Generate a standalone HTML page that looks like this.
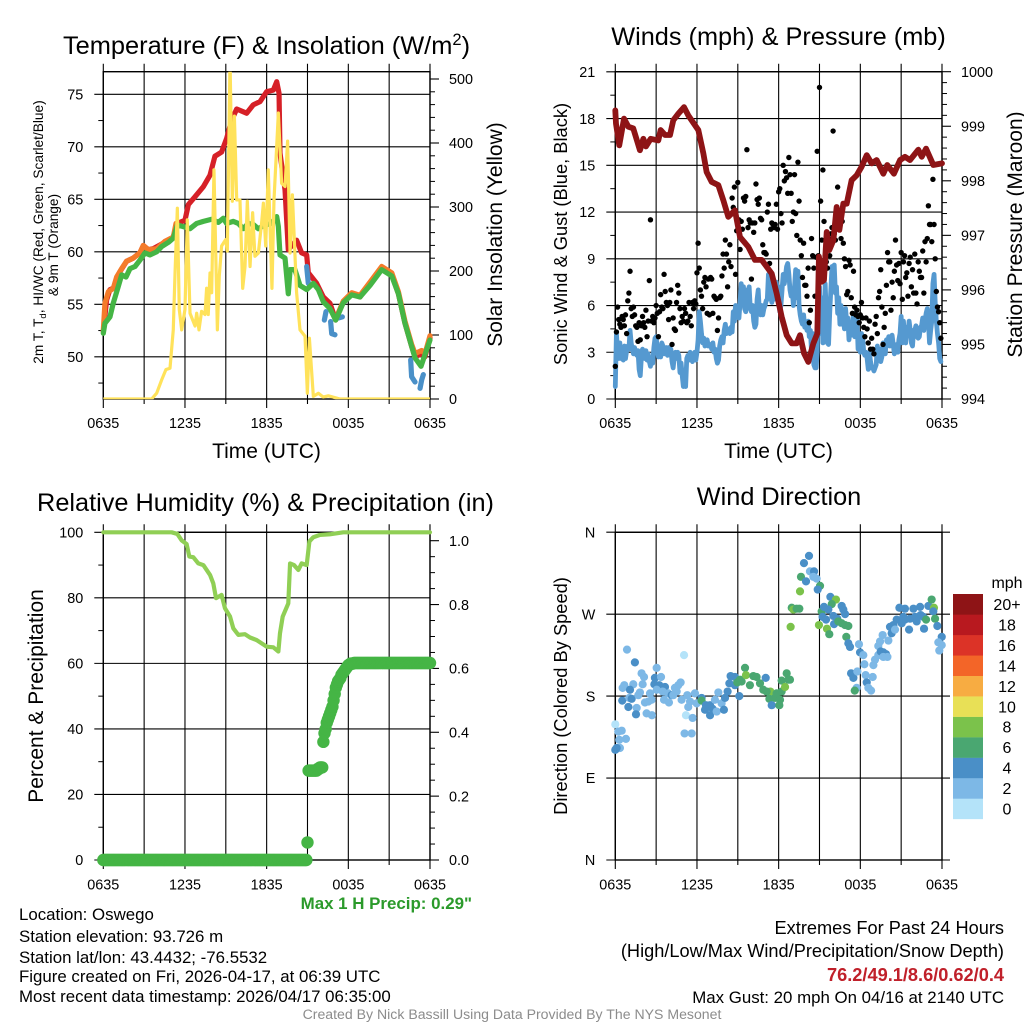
<!DOCTYPE html>
<html lang="en">
<head>
<meta charset="utf-8">
<title>Oswego Mesonet Meteogram</title>
<style>
html,body{margin:0;padding:0;background:#fff;width:1024px;height:1024px;overflow:hidden}
svg{display:block}
text{font-family:"Liberation Sans",sans-serif;fill:#000}
</style>
</head>
<body>
<svg id="chart-root" xmlns="http://www.w3.org/2000/svg" width="1024" height="1024" viewBox="0 0 1024 1024">
  <defs>
    <clipPath id="temp-clip"><rect x="103.3" y="71.7" width="326.7" height="327.5"/></clipPath>
  </defs>
  <g id="panel-temp"></g>
  <g id="panel-wind"></g>
  <g id="panel-rh"></g>
  <g id="panel-dir"></g>

  <text x="266.5" y="54" font-size="25.4" text-anchor="middle">Temperature (F) &amp; Insolation (W/m<tspan dy="-9" font-size="16.5">2</tspan><tspan dy="9">)</tspan></text>
  <text x="778.5" y="45" font-size="25.3" text-anchor="middle">Winds (mph) &amp; Pressure (mb)</text>
  <text x="265.5" y="511" font-size="25.3" text-anchor="middle">Relative Humidity (%) &amp; Precipitation (in)</text>
  <text x="779" y="505" font-size="25.3" text-anchor="middle">Wind Direction</text>

  <text x="266.5" y="458" font-size="21" text-anchor="middle">Time (UTC)</text>
  <text x="778.5" y="458" font-size="21" text-anchor="middle">Time (UTC)</text>

  <text transform="translate(43,232) rotate(-90)" font-size="13.7" text-anchor="middle">2m T, T<tspan dy="3" font-size="9.5">d</tspan><tspan dy="-3">, HI/WC (Red, Green, Scarlet/Blue)</tspan></text>
  <text transform="translate(58,245) rotate(-90)" font-size="13.7" text-anchor="middle">&amp; 9m T (Orange)</text>
  <text transform="translate(502,234.5) rotate(-90)" font-size="21" text-anchor="middle">Solar Insolation (Yellow)</text>
  <text transform="translate(567,234) rotate(-90)" font-size="18.3" text-anchor="middle">Sonic Wind &amp; Gust (Blue, Black)</text>
  <text transform="translate(1022,234.5) rotate(-90)" font-size="21" text-anchor="middle">Station Pressure (Maroon)</text>
  <text transform="translate(43,696) rotate(-90)" font-size="21" text-anchor="middle">Percent &amp; Precipitation</text>
  <text transform="translate(567,696) rotate(-90)" font-size="18.3" text-anchor="middle">Direction (Colored By Speed)</text>

  <text x="472" y="909" font-size="16.9" font-weight="bold" text-anchor="end" style="fill:#2b9a2b">Max 1 H Precip: 0.29"</text>

  <g font-size="16.85">
    <text x="19" y="920">Location: Oswego</text>
    <text x="19" y="942">Station elevation: 93.726 m</text>
    <text x="19" y="963">Station lat/lon: 43.4432; -76.5532</text>
    <text x="19" y="982">Figure created on Fri, 2026-04-17, at 06:39 UTC</text>
    <text x="19" y="1002">Most recent data timestamp: 2026/04/17 06:35:00</text>
  </g>
  <g text-anchor="end">
    <text x="1004" y="934" font-size="18.2">Extremes For Past 24 Hours</text>
    <text x="1004" y="957" font-size="18.2">(High/Low/Max Wind/Precipitation/Snow Depth)</text>
    <text x="1004" y="981" font-size="18.2" font-weight="bold" style="fill:#c0202a">76.2/49.1/8.6/0.62/0.4</text>
    <text x="1004" y="1003" font-size="16.85">Max Gust: 20 mph On 04/16 at 2140 UTC</text>
  </g>
  <text x="512" y="1019" font-size="14.1" text-anchor="middle" style="fill:#8c8c8c">Created By Nick Bassill Using Data Provided By The NYS Mesonet</text>
</svg>

<script>
/* ---------- tick labels ---------- */
const timeTickLabels = ['0635', '1235', '1835', '0035', '0635'];
const tempTicks = [50, 55, 60, 65, 70, 75];
const solarTicks = [0, 100, 200, 300, 400, 500];
const windTicks = [0, 3, 6, 9, 12, 15, 18, 21];
const pressureTicks = [994, 995, 996, 997, 998, 999, 1000];
const humidityTicks = [0, 20, 40, 60, 80, 100];
const precipTicks = ['0.0', '0.2', '0.4', '0.6', '0.8', '1.0'];
const directionTicks = [0, 90, 180, 270, 360];
const directionTickLabels = ['N', 'E', 'S', 'W', 'N'];
const speedLegendLabels = ['0', '2', '4', '6', '8', '10', '12', '14', '16', '18', '20+'];
const speedLegendColors = ['#b4e3f9', '#7db8e6', '#4a8fc7', '#4aa771', '#7bc24b', '#e8e056', '#f7ac42', '#f36528', '#dc3327', '#b8191f', '#8e1416'];

/* ---------- temperature panel ---------- */
const airTempHours = [0,.24,.49,.86,1.22,1.71,2.2,2.69,2.94,3.31,3.67,4.16,4.65,5.14,5.44,6,6.25,6.74,7.35,7.84,8.2,8.69,9.06,9.43,9.8,10.53,11.02,11.51,12,12.49,12.74,12.91,12.98,13.35,13.59,14.2,14.57,14.94,15.06,15.67,16.16,16.65,17.07,17.63,18.25,18.86,19.59,20.45,21.19,21.68,22.16,22.65,22.9,23.39,23.63,24];
const airTempValues = [52.4,55.4,56.4,56.6,58.1,59.1,59.4,59.9,60.6,60.2,60.3,60.65,61,61.4,62.7,63,64.5,65.25,66.2,67.3,69.1,69.5,70.8,72.55,73.6,73.2,74,74.3,75.25,75.4,76.2,75.1,69.4,65.9,60.2,61.1,59.9,59.7,58,57,55.7,55.1,53.5,55.25,56,55.7,57,58.4,57.8,56,53.2,51,50,50.3,50,51.8];
const mastTempHours = [0,.12,.37,.73,.98,1.35,1.71,2.2,2.69,2.94,3.31,3.92,4.53,5.14,5.34,null,17.07,17.63,18.25,18.86,19.59,20.45,21.19,21.68,22.16,22.65,22.9,23.39,23.63,24];
const mastTempValues = [52.5,55.1,56.2,56.5,57.6,58.4,59.1,59.4,59.9,60.6,60.2,60.3,61,61.4,62.7,null,53.6,55.3,56.1,55.85,57.1,58.6,58,56.2,53.4,51.2,50.3,50.6,50.3,52];
const windChillHours = [14.94,15.06,null,16.24,16.36,null,16.7,16.78,17.02,null,17.27,17.56,null,22.58,22.65,22.9,null,23.27,23.39,23.51];
const windChillValues = [58.6,57,null,53.5,54.3,null,53.35,52.2,52.1,null,53.7,53.8,null,49.7,48.1,47.6,null,47,47.8,48.3];
const dewPointHours = [0,.12,.49,.73,1.1,1.35,1.67,1.96,2.33,2.69,3.06,3.43,3.92,4.29,4.78,5.14,5.44,5.88,6.37,6.86,7.35,7.96,8.45,8.82,9.06,9.55,9.92,10.29,10.65,11.02,11.39,11.88,12.37,12.74,12.86,12.98,13.35,13.59,13.72,14.08,14.45,14.94,15.43,15.8,16.16,16.65,17.07,17.63,18.25,18.86,19.59,20.45,21.19,21.68,22.16,22.65,22.9,23.34,23.63,24];
const dewPointValues = [52.24,53.2,53.8,55.1,56.7,57.8,57.6,58.4,58.6,59.2,59.9,59.7,60,60.5,60.9,61.3,62.55,62.4,62.2,62.7,62.9,63.1,62.8,63.2,62.7,62.9,62.7,62.2,62.7,62.6,62.2,62.55,62.7,63.35,62.4,59.7,59.4,56,58.3,58.3,56.8,56.4,57,56.4,55.25,54.6,53.5,55.15,55.9,55.7,56.8,58.3,57.7,56,53.2,51,49.9,49.1,50.2,51.6];
const solarHours = [0,3.55,3.92,4.29,4.6,4.9,5.14,5.27,5.44,5.58,5.76,6,6.17,6.37,6.74,6.86,7.03,7.22,7.47,7.59,7.71,7.84,7.96,8.13,8.38,8.52,8.69,8.99,9.11,9.31,9.48,9.63,9.8,10.04,10.24,10.41,10.58,10.78,10.97,11.14,11.39,11.63,11.76,11.93,12.12,12.39,12.54,12.86,13.1,13.35,13.54,13.72,13.89,14.2,14.45,14.82,14.99,15.14,15.43,15.8,16.16,16.53,17.39,24];
const solarValues = [0,0,9,30,46,48,108,197,298,140,108,140,280,134,114,134,108,137,132,173,132,197,166,358,108,192,239,249,231,530,309,442,311,311,173,207,309,207,291,223,228,275,306,239,358,173,311,447,337,332,403,228,319,166,108,98,9,95,4,9,3,5,0,0];

/* ---------- wind panel (both series sampled every 5 min, one row per hour) ---------- */
const sustainedWind = [
.8,4.2,3,2.6,3.6,2.6,3.3,2.5,3.4,2.6,3.1,3.4,
3.2,4.4,3.6,3.2,2.9,3.3,3,2.8,3.1,1.9,1.5,2.7,
3.2,3,2.6,3.1,2.5,2.9,2.4,2.1,2.6,2.3,3.3,3.9,
4,3.3,2.7,3.2,2.7,3.6,3.4,2.9,3.1,3.3,2.8,3.3,
3.1,3.2,2.4,2,2.7,3,2.6,3,2.8,1.7,2.3,1.5,
.8,1,.8,2.6,2.8,2.5,3,2.8,2.4,2.6,3,2.5,
3,3.8,5.6,5,4.2,3.6,3.9,3.4,3.6,3.8,3.4,3.5,
3.5,3.2,3.6,3,3.2,2.6,2.3,2.5,3.4,3.8,4,3.6,
4.4,4.8,4.2,4.3,4.5,4.2,4.6,4.3,5.6,5,6,5.4,
5.8,5.2,6.2,7.4,6.6,7.2,5.8,5.6,7,6.6,7.2,5.8,
5.6,6,5,4.6,4.8,6.4,7,5.6,5.4,6,5.4,5.8,
6,6.3,6.4,8,7.2,6.6,6.2,7.2,6.4,7,7.5,6.8,
7.2,5.6,6,7,8,7.4,7.9,8.5,8.7,8,7,6.6,
7,6,7.2,8.3,6.5,8.2,6,5.4,5,4.8,5.4,4.6,
4.8,4.4,5,4,4.4,3,4.2,2.2,2,2,3,7,
7.2,4.2,6.5,3.6,4.5,7.4,5.5,3.6,3.5,5.5,7,8.5,
8,8.6,6.8,7.2,5.5,6.5,4.8,6,4.8,5.2,4.5,5.8,
4.9,5.2,3.8,4.5,4.1,4.8,5.5,4,4.2,5.4,3.2,3.5,
3,4.2,4,3,2.8,3,2.6,1.9,3,2.4,2,2,
1.8,2,2.2,3.4,2.5,3.2,2.4,2.7,3.6,3.2,2.9,3.8,
3.5,4,3.4,3.9,4.1,3.5,2.9,3.4,3.5,3,3.8,4.2,
5.3,3.6,5,4,3.6,4.6,4.2,5,4.4,3.6,3.4,4.4,
4.4,4.7,4,3.9,4,4.6,4.7,5.2,4.4,5,5.5,5.8,
5,3.6,4.4,5,7.4,8,6.2,5,4.2,3.6,2.6,2.4];
const gustWind = [
2.1,4.3,5.9,5.1,4.8,4.6,5.3,5.1,4.7,5.4,4.2,6.3,
6.8,8.2,5.8,5.3,5.9,5.4,4.7,4.6,3.7,4.9,3.8,4.7,
5.3,4.9,4.6,5.7,4,5,7.6,11.5,5,5.3,4.9,5.2,
6,5.5,4,5.6,6.7,5.9,5.8,8,6.9,6.2,6,5.1,
6.2,7,3.5,5.2,4.5,4.4,6.2,7.3,6.8,5.8,4.9,5.3,
5,5.8,5.5,4.9,5,6.2,5.3,4.7,6.2,5.8,6.3,6.1,
8.1,10,8.4,7,6.6,5.8,7.5,7.8,7.2,5.5,7.7,5.4,
7.8,7.7,5.5,6.6,6.5,6.4,4.4,5.2,6.5,6.6,7.9,9.3,
8.4,10.2,9.3,7.2,8.8,9.9,8.5,12.9,12.3,13.6,8,10.8,
13.9,11.5,9.6,11.4,10.9,12.9,12.7,13,16,11,11.5,11.3,
7.7,11.3,10.7,11.3,13.8,12.8,12.5,12.9,11.6,11.5,9.9,9.4,
9.4,9.3,12,12.5,8.7,10.9,11.3,11.2,11,11.2,12.5,10.9,
13.3,13.5,11.9,11.3,15,14,14.6,14.2,13.2,15.5,14.4,13.2,
11.4,12,14.4,11.9,10.5,15.2,12.7,10.2,9.2,7.8,10,7.3,
7.3,6.6,8.4,4.9,5.7,10.3,9.2,8.4,6.6,9.1,15.9,9.2,
20,12.7,10.2,14.7,11.4,9.2,8.8,8.4,10.3,9.2,10.6,11,
17.2,10.6,10.2,11,13.6,11.4,11.5,10.3,11.4,10,9,8.5,
6.7,6.9,8.9,8.6,6.5,5.5,8.2,5.9,5.4,5.7,5.3,4.9,
5.4,6.2,5.2,4.6,4,5.2,4.5,3.6,5,3.2,3.9,3.2,
2.9,4.8,5.3,4.2,6.5,6.9,8.3,5.9,3.5,4.6,5.5,7.3,
9.4,8.8,8.8,5.7,7.5,6.5,8.2,10.2,8.6,7.6,8.7,7.4,
9.4,6.4,8.8,9.2,7.8,8.1,6.6,8.7,9.1,7.2,8.3,6.8,
9.3,6.8,6.1,8.8,8.2,7.8,7.8,9.5,6.8,10.1,8.8,10.3,
12.4,11.2,11.2,10.1,14.1,11.2,9,6.9,5.9,5.6,4.9,3.9];
const pressureHours = [0,.05,.29,.64,.96,1.32,1.81,2.06,2.25,2.6,3.16,3.33,3.65,4.02,4.26,4.63,5.05,5.36,5.85,6.1,6.47,6.71,7.08,7.57,7.94,8.3,8.79,9.16,9.77,10.26,10.75,11.49,11.85,12.22,12.59,12.96,13.32,13.57,13.86,14.18,14.55,14.84,14.96,15.16,15.33,15.53,15.72,16.02,16.26,16.46,16.75,17,17.36,17.73,18.1,18.47,18.83,19.2,19.69,19.98,20.47,20.92,21.28,21.65,22.26,22.51,22.83,23.36,24];
const pressureValues = [999.29,999.05,998.65,999.14,998.99,998.96,998.56,998.77,998.63,998.77,998.74,998.93,998.84,998.84,999.11,999.23,999.35,999.2,999.02,998.93,998.5,998.16,997.98,997.92,997.64,997.34,997.46,996.97,996.79,996.55,996.55,996.3,995.94,995.51,995.17,995.02,995.02,995.17,994.84,994.68,995.02,995.2,996.61,996.15,996.18,997.06,996.73,996.91,997.52,997.1,997.58,997.58,998.01,998.1,998.26,998.47,998.32,998.38,998.13,998.29,998.13,998.38,998.44,998.38,998.57,998.44,998.59,998.29,998.32];

/* ---------- humidity / precipitation panel (precip: every 5 min) ---------- */
const humidityHours = [0,5.02,5.44,5.76,6.12,6.32,6.61,6.98,7.35,7.84,8.08,8.28,8.69,8.94,9.31,9.55,9.92,10.41,10.78,11.27,12,12.49,12.86,12.98,13.18,13.59,13.72,14.01,14.33,14.57,14.94,15.14,15.43,15.92,16.65,17.63,24];
const humidityValues = [100,100,99.5,97.5,96.4,92.6,92.4,90.5,90,87,84.4,79.9,80.9,76.8,74.3,70.7,68.7,68.9,67.9,67.1,65.1,64.9,63.6,69.2,74.3,78.3,90.5,90,88.5,90.5,90,97.2,98.5,99.2,99.4,100,100];
const precipInches = [
0,0,0,0,0,0,0,0,0,0,0,0, 0,0,0,0,0,0,0,0,0,0,0,0, 0,0,0,0,0,0,0,0,0,0,0,0,
0,0,0,0,0,0,0,0,0,0,0,0, 0,0,0,0,0,0,0,0,0,0,0,0, 0,0,0,0,0,0,0,0,0,0,0,0,
0,0,0,0,0,0,0,0,0,0,0,0, 0,0,0,0,0,0,0,0,0,0,0,0, 0,0,0,0,0,0,0,0,0,0,0,0,
0,0,0,0,0,0,0,0,0,0,0,0, 0,0,0,0,0,0,0,0,0,0,0,0, 0,0,0,0,0,0,0,0,0,0,0,0,
0,0,0,0,0,0,0,0,0,0,0,0, 0,0,0,0,0,0,0,0,0,0,0,0, 0,0,0,0,0,0,0,0,0,0,0,0,
.055,.28,.28,.28,.28,.28,.28,.28,.28,.285,.285,.29,
.29,.29,.37,.397,.41,.43,.44,.45,.46,.47,.48,.5,
.52,.54,.55,.56,.565,.57,.58,.585,.59,.595,.6,.605,
.61,.612,.615,.615,.615,.617,.617,.617,.617,.617,.617,.617,
.617,.617,.617,.617,.617,.617,.617,.617,.617,.617,.617,.617,
.617,.617,.617,.617,.617,.617,.617,.617,.617,.617,.617,.617,
.617,.617,.617,.617,.617,.617,.617,.617,.617,.617,.617,.617,
.617,.617,.617,.617,.617,.617,.617,.617,.617,.617,.617,.617,
.617,.617,.617,.617,.617,.617,.617,.617,.617,.617,.617,.617,.617];

/* ---------- direction panel ---------- */
const directionHours = [0,.22,.47,.29,.78,.34,0,.1,.86,1.44,.66,.54,1.32,1.08,.51,1.03,1.2,.96,1.57,1.52,1.81,1.69,1.93,2.11,2.01,2.55,2.42,2.18,2.67,2.3,2.69,3.04,2.91,3.36,2.87,3.23,3.65,3.04,3.48,3.89,4.14,3.58,3.94,4.26,4.38,4.63,4.8,4.51,5.05,4.87,5.29,5.49,5.36,5.19,5.68,5.09,5.61,5.85,5.98,6.34,6.34,6.66,6.96,6.59,6.96,7.15,7.45,7.32,7.57,7.81,7.98,8.06,8.25,8.38,8.47,8.79,8.79,9.11,8.96,9.28,9.16,9.53,9.6,9.89,10.14,10.38,10.63,10.87,11.05,11.39,11.12,11.32,11.49,11.73,12.1,12.05,11.85,12.22,12.22,12.47,12.59,12.71,12.83,12.88,13.57,12.96,13.08,13.32,13.52,13.64,13.86,14.23,14.01,14.3,14.6,14.55,14.79,15.04,14.87,15.8,16.21,15.9,16.63,16.75,16.88,15.16,15.33,15.65,15.23,15.48,16.02,16.31,16.07,16.38,16.63,16.88,17.12,14.96,15.55,15.72,16.97,17.12,17.24,17.9,17.98,18.22,17.32,17.49,18.3,17.78,18.39,17.73,17.59,18.47,18.91,18.59,18.79,18.96,19.08,19.32,19.32,19.45,19.64,20.06,19.69,19.5,19.89,19.99,19.69,20.18,20.3,20.43,20.55,20.67,20.87,21.28,21.16,21.04,21.28,21.58,21.65,21.9,22.02,22.39,22.43,22.14,22.63,22.83,22.68,23,23.24,23.41,23.36,23.49,23.66,23.98,23.73,23.98,23.8];
const directionDegrees = [149,141,142,132,133,123,121,123,231,217,192,189,193,187,175,178,177,168,167,160,184,181,205,201,193,183,174,173,176,161,159,211,200,201,193,192,190,187,185,183,181,176,173,181,189,192,195,185,225,176,181,174,168,159,156,139,139,183,172,178,175,170,170,165,159,166,163,176,184,172,165,178,185,194,202,201,192,180,195,196,198,211,203,192,202,201,194,187,200,185,185,177,170,178,176,170,183,185,197,190,205,198,198,256,295,277,275,276,276,311,326,334,306,317,317,311,309,301,297,289,286,281,279,275,270,273,278,275,267,264,268,265,259,262,260,258,257,258,254,248,245,238,234,237,228,225,205,200,215,207,203,189,186,195,201,189,186,214,220,225,235,240,247,241,228,229,226,223,223,256,249,258,253,264,277,276,267,260,264,253,265,276,267,278,269,262,267,264,254,279,286,277,273,265,257,245,239,236,230];
const directionSpeeds = [0,2,2,2,2,2,4,4,2,4,2,2,2,4,4,2,4,4,2,4,2,2,2,2,2,2,2,2,2,2,2,2,4,2,4,4,4,2,2,2,4,2,2,2,2,2,2,2,0,2,2,2,2,0,2,2,2,2,2,4,6,4,4,4,4,4,2,2,2,2,4,4,4,4,4,4,4,4,6,6,6,6,8,6,6,6,6,6,4,8,6,6,4,6,6,6,6,6,6,8,6,6,6,8,8,6,8,6,6,6,4,4,4,2,4,2,2,6,4,4,8,6,4,4,4,6,4,4,4,4,4,4,4,6,6,6,6,8,8,6,6,4,4,2,4,2,4,4,2,2,2,2,6,4,2,2,2,2,2,2,2,2,2,2,4,4,4,2,2,4,4,4,2,4,4,4,4,4,4,4,4,4,4,4,4,4,4,6,4,4,6,8,4,6,4,4,2,2,2];

/* ---------- axis functions ---------- */
const SVG_NS = 'http://www.w3.org/2000/svg';
const xLeft = h => 103.3 + h * 326.7 / 24;
const xRight = h => 615.3 + h * 326.7 / 24;
const yTemp = v => 94.3 + (75 - v) * 10.5;
const ySolar = v => 399 - v * 0.64;
const yWind = v => 399 - v * 15.58;
const yPressure = v => 399 - (v - 994) * 54.55;
const yHumidity = v => 860 - v * 3.277;
const yPrecip = v => 860 - v * 319.3;
const yDirection = v => 860 - v * 0.9106;

function make(tag, attrs, parent) {
  const el = document.createElementNS(SVG_NS, tag);
  for (const k in attrs) el.setAttribute(k, attrs[k]);
  parent.appendChild(el);
  return el;
}
function addLine(parent, name, x1, y1, x2, y2, width) {
  const el = make('line', {x1: x1, y1: y1, x2: x2, y2: y2, stroke: '#000', 'stroke-width': width}, parent);
  
  
  return el;
}
function addText(parent, name, text, x, y, anchor, size) {
  const el = make('text', {x: x, y: y, 'text-anchor': anchor, 'font-size': size}, parent);
  el.textContent = text;
  
  
  return el;
}
function seriesPath(hours, values, xFn, yFn) {
  let d = '', pen = false;
  hours.forEach((h, i) => {
    if (h === null || values[i] === null) { pen = false; return; }
    d += (pen ? 'L' : 'M') + xFn(h).toFixed(2) + ' ' + yFn(values[i]).toFixed(2);
    pen = true;
  });
  return d;
}
function addSeries(parent, name, hours, values, xFn, yFn, color, width) {
  const el = make('path', {d: seriesPath(hours, values, xFn, yFn), fill: 'none', stroke: color, 'stroke-width': width, 'stroke-linejoin': 'round', 'stroke-linecap': 'round'}, parent);
  
  
  return el;
}
function timeAxis(parent, xFn, top, bottom, labelY) {
  for (let i = 0; i <= 8; i++) {
    const h = i * 3, x = xFn(h), major = i % 2 === 0;
    addLine(parent, 'time-gridline', x, top - 8, x, bottom + (major ? 9 : 5), 1.1);
    if (major) addText(parent, 'time-tick-label', timeTickLabels[i / 2], x, labelY, 'middle', 14.4);
  }
}
function leftAxis(parent, ticks, labels, yFn, minorStep, x0, x1, yMin, yMax, extendRight) {
  ticks.forEach((t, i) => {
    addLine(parent, 'y-gridline', x0 - 9, yFn(t), x1 + extendRight, yFn(t), 1.1);
    addText(parent, 'y-tick-label', labels[i], x0 - 20, yFn(t) + 5.2, 'end', 14.4);
  });
  if (minorStep) {
    for (let v = yMin; v <= yMax + 1e-6; v += minorStep) {
      if (!ticks.some(t => Math.abs(t - v) < 1e-6)) addLine(parent, 'y-minor-tick', x0 - 5, yFn(v), x0, yFn(v), 1);
    }
  }
}
function rightAxis(parent, ticks, labels, yFn, minorStep, x1, yMin, yMax) {
  ticks.forEach((t, i) => {
    addLine(parent, 'right-major-tick', x1, yFn(t), x1 + 9, yFn(t), 1.1);
    addText(parent, 'right-tick-label', labels[i], x1 + 19, yFn(t) + 5.2, 'start', 14.4);
  });
  for (let v = yMin; v <= yMax + 1e-6; v += minorStep) {
    if (!ticks.some(t => Math.abs(+t - v) < 1e-6)) addLine(parent, 'right-minor-tick', x1, yFn(v), x1 + 5, yFn(v), 1);
  }
}
function addFrame(parent, name, x0, y0, x1, y1) {
  const el = make('rect', {x: x0, y: y0, width: x1 - x0, height: y1 - y0, fill: 'none', stroke: '#000', 'stroke-width': 1.4}, parent);
  
  
}

/* ---------- temperature panel ---------- */
const pTemp = document.getElementById('panel-temp');
timeAxis(pTemp, xLeft, 71.7, 399, 428);
leftAxis(pTemp, tempTicks, tempTicks.map(String), yTemp, 2.5, 103.3, 430, 47.5, 77, 0);
rightAxis(pTemp, solarTicks, solarTicks.map(String), ySolar, 20, 430, 0, 500);
addFrame(pTemp, 'temperature-plot-frame', 103.3, 71.7, 430, 399);
addSeries(pTemp, 'air-temperature-line', airTempHours, airTempValues, xLeft, yTemp, '#d62027', 5.2);
addSeries(pTemp, 'nine-meter-temperature-line', mastTempHours, mastTempValues, xLeft, yTemp, '#f47b2a', 5.2);
addSeries(pTemp, 'wind-chill-line', windChillHours, windChillValues, xLeft, yTemp, '#4a90c8', 5.2);
addSeries(pTemp, 'dew-point-line', dewPointHours, dewPointValues, xLeft, yTemp, '#45b545', 5.2);
const solarLine = addSeries(pTemp, 'solar-insolation-line', solarHours, solarValues, xLeft, ySolar, '#ffe25a', 3.2);
solarLine.setAttribute('clip-path', 'url(#temp-clip)');

/* ---------- wind panel ---------- */
const pWind = document.getElementById('panel-wind');
timeAxis(pWind, xRight, 71.7, 399, 428);
leftAxis(pWind, windTicks, windTicks.map(String), yWind, 1.5, 615.3, 942, 0, 21, 0);
rightAxis(pWind, pressureTicks, pressureTicks.map(String), yPressure, 0.2, 942, 994, 1000);
addFrame(pWind, 'wind-plot-frame', 615.3, 71.7, 942, 399);
addSeries(pWind, 'sustained-wind-line', sustainedWind.map((v, i) => i / 12), sustainedWind, xRight, yWind, '#5599d0', 4.8);
gustWind.forEach((v, i) => {
  const dot = make('circle', {cx: xRight(i / 12), cy: yWind(v), r: 2.7, fill: '#000'}, pWind);
  
  
});
addSeries(pWind, 'station-pressure-line', pressureHours, pressureValues, xRight, yPressure, '#8e1416', 5.8);

/* ---------- humidity panel ---------- */
const pRh = document.getElementById('panel-rh');
timeAxis(pRh, xLeft, 532.3, 860, 889.5);
leftAxis(pRh, humidityTicks, humidityTicks.map(String), yHumidity, 10, 103.3, 430, 0, 100, 0);
rightAxis(pRh, precipTicks.map(Number), precipTicks, yPrecip, 0.05, 430, 0, 1);
addFrame(pRh, 'humidity-plot-frame', 103.3, 532.3, 430, 860);
addSeries(pRh, 'relative-humidity-line', humidityHours, humidityValues, xLeft, yHumidity, '#90cf55', 4.2);
precipInches.forEach((v, i) => {
  const dot = make('circle', {cx: xLeft(i / 12), cy: yPrecip(v), r: 6.2, fill: '#45b545'}, pRh);
  
  
});

/* ---------- direction panel ---------- */
const pDir = document.getElementById('panel-dir');
timeAxis(pDir, xRight, 532.3, 860, 889.5);
leftAxis(pDir, directionTicks, directionTickLabels, yDirection, 0, 615.3, 942, 0, 360, 8);
addFrame(pDir, 'direction-plot-frame', 615.3, 532.3, 942, 860);
directionHours.forEach((h, i) => {
  const bin = Math.min(Math.round(directionSpeeds[i] / 2), speedLegendColors.length - 1);
  const dot = make('circle', {cx: xRight(h), cy: yDirection(directionDegrees[i]), r: 4.1, fill: speedLegendColors[bin]}, pDir);
  
  
});
const legendTop = 594, legendStep = 20.45;
addText(pDir, 'speed-legend-title', 'mph', 1007, 588, 'middle', 16);
speedLegendLabels.forEach((label, i) => {
  const row = speedLegendLabels.length - 1 - i;
  const swatch = make('rect', {x: 953, y: legendTop + row * legendStep, width: 30, height: legendStep + 0.2, fill: speedLegendColors[i]}, pDir);
  
  
  addText(pDir, 'speed-legend-label', label, 1007, legendTop + row * legendStep + 16, 'middle', 16);
});
</script>
</body>
</html>
